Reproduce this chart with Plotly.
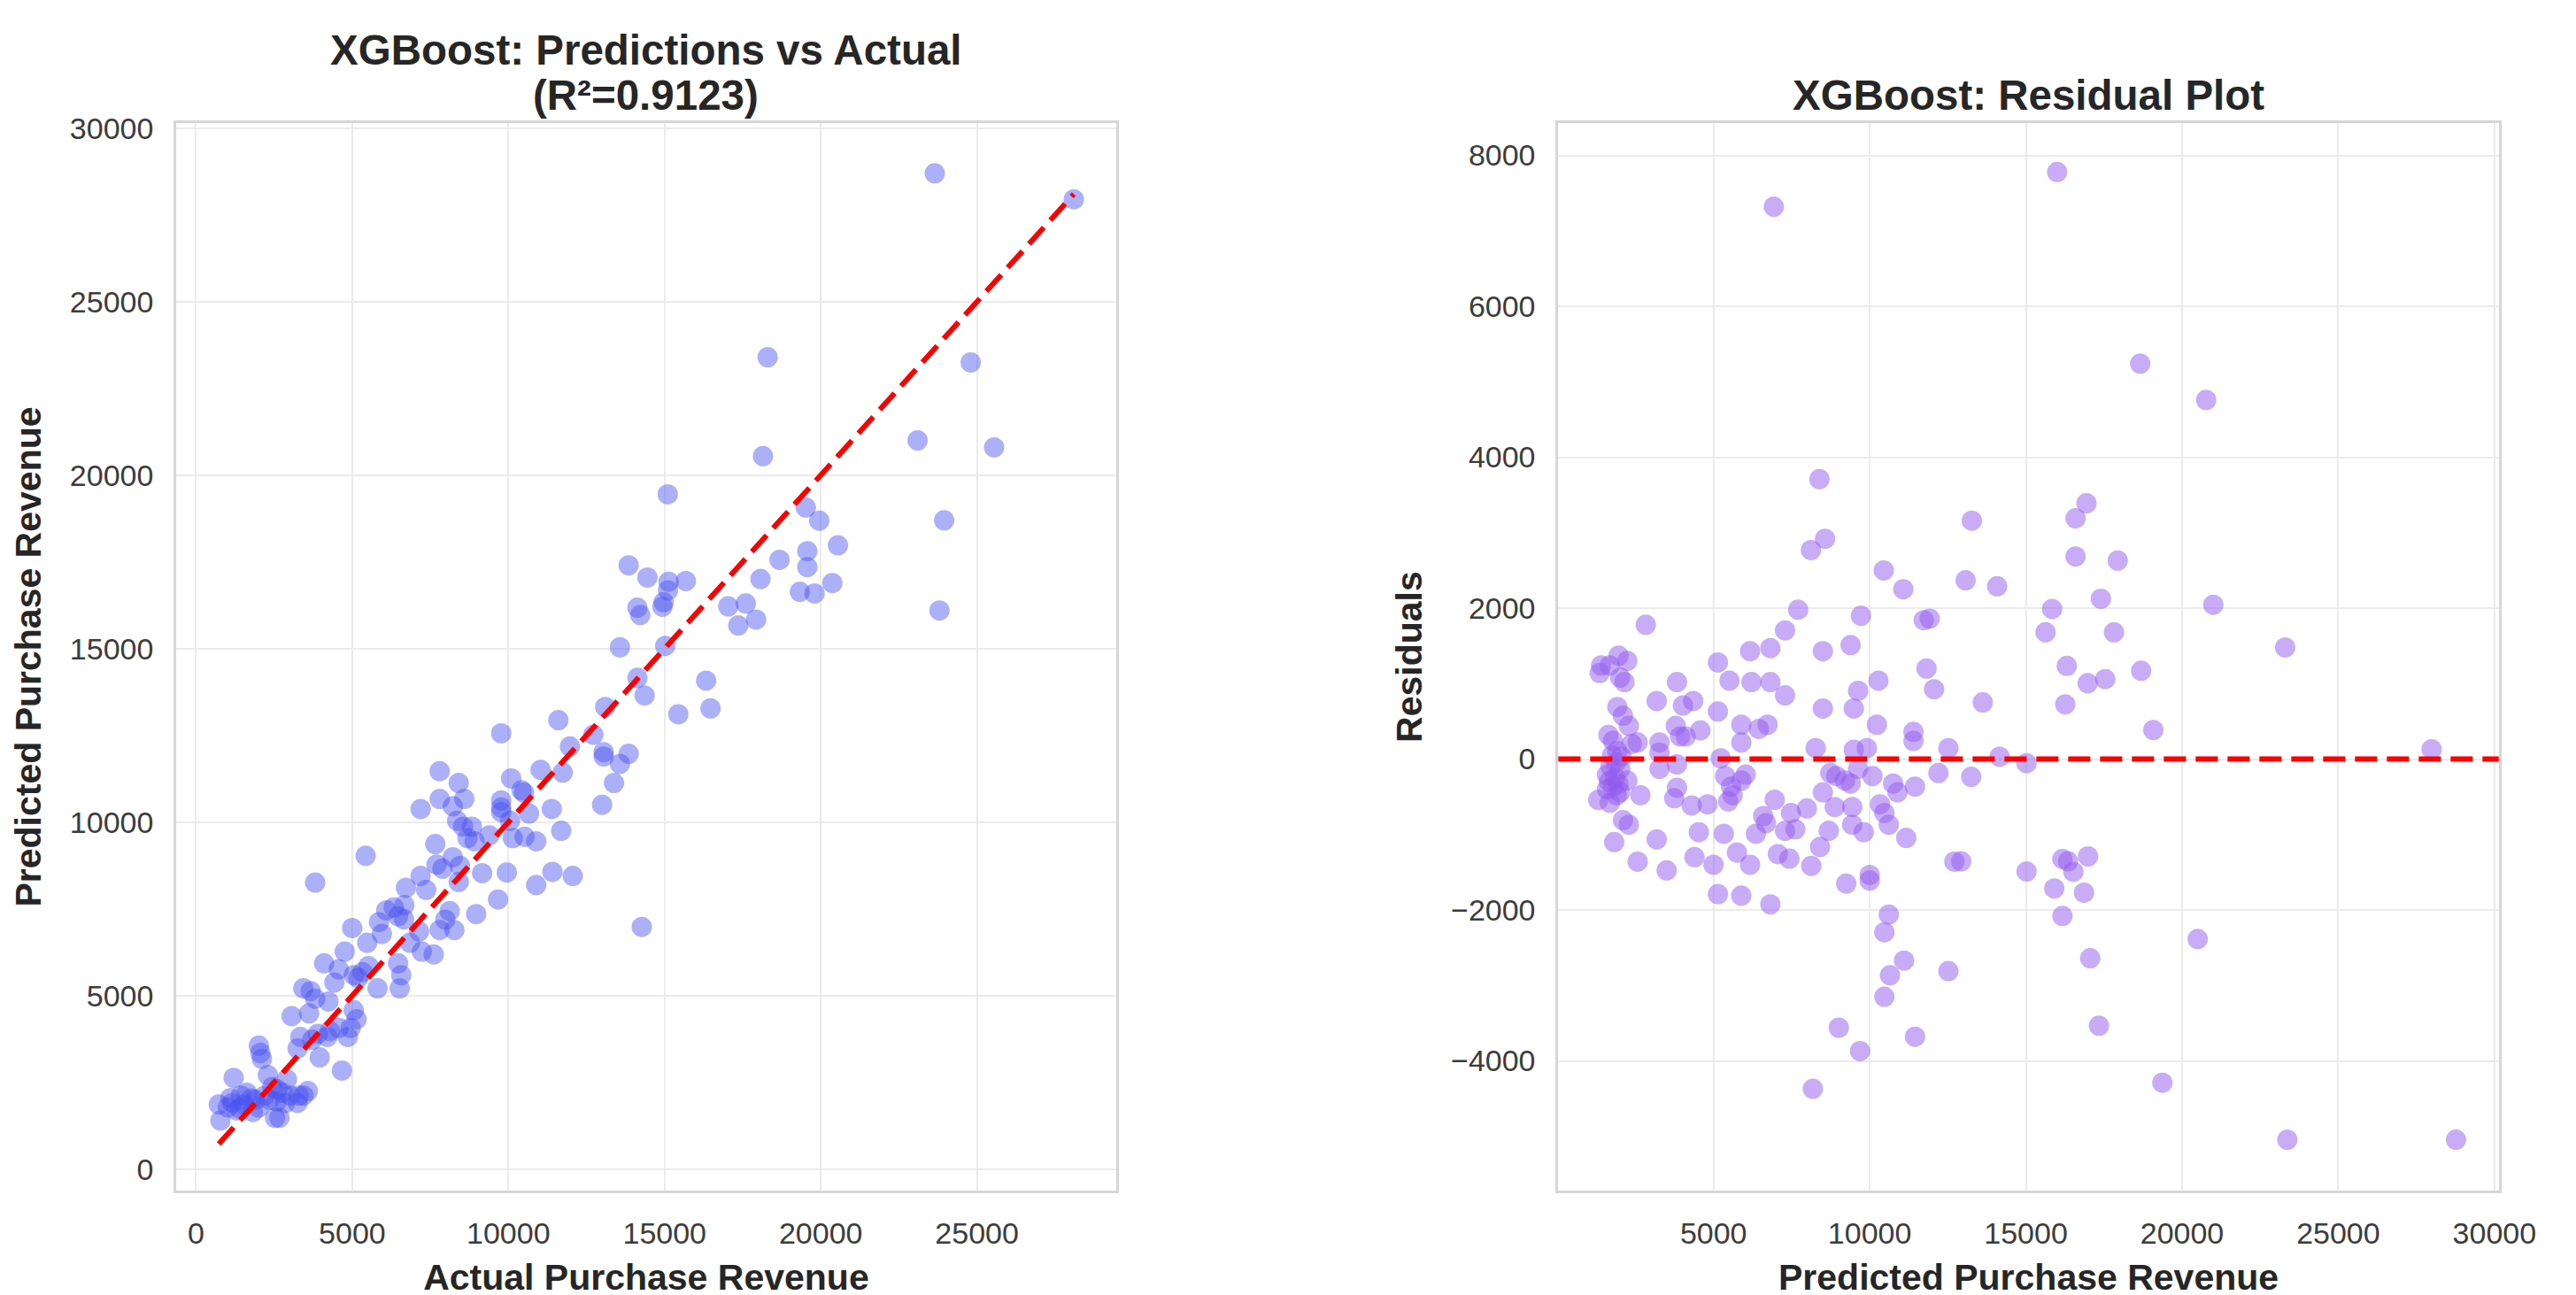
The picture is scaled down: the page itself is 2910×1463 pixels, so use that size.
import plotly.graph_objects as go

# Left panel: actual vs predicted purchase revenue
actual_rev = [
    730, 780, 1205, 1015, 1160, 1300, 1440, 1540, 1630, 1775, 1820, 2010, 2010, 2060,
    2110, 2200, 2300, 2440, 2530, 2670, 2580, 2770, 2910, 3010, 3250, 3290, 3580, 3440,
    1100, 1400, 1900, 2350, 2600, 2850,
    4670, 3960, 3250, 3340, 3720, 3900, 4200, 4290, 4570, 4860, 4950, 5140, 5050, 3060,
    3620, 3435, 3670, 4240, 3815, 4100, 4430, 4570, 4760, 5000, 5050, 5190, 5330, 5520,
    5810, 5480, 5860, 5950, 6090, 6330, 6470, 6470, 6570, 6520, 6850, 7230, 7610, 3815,
    5430,
    13850, 14450, 15130, 15680, 15110, 14970, 14930, 14130, 14220, 13570, 15020, 17040,
    17600, 17360, 17930, 18680, 19570, 19570, 19330, 19800, 20370, 20550, 19520, 19950,
    18070, 14130, 14360, 16330, 16470, 15440, 13100, 11600, 9770, 11970, 12720, 13050,
    13050, 13570, 13850, 13380, 11740, 11030, 10090, 10420, 10500, 10660, 11390, 11690,
    13000, 7800, 8410, 8590, 7800, 7190, 8220, 9770, 9770, 9770, 10050, 10140, 10520,
    10890, 8360, 8550, 8830, 8690, 8920, 9390, 7660, 7700, 7890, 8220, 8450, 8410, 7190,
    7370, 9160, 9950, 10890, 11410, 12060, 9670, 8970, 8120, 7980, 8270, 7800, 7140,
    6720, 6670, 14270, 6660,
    23650, 28100, 18300, 24800, 23100, 25550, 18150, 15100, 23950, 23800,
]
predicted_rev = [
    1865, 1400, 2630, 1780, 1910, 1695, 2120, 1865, 2200, 2035, 1650, 1780, 3560, 3350,
    3180, 2120, 2710, 2370, 1480, 1480, 1950, 2200, 2585, 2120, 1910, 2120, 2250, 2120,
    2050, 1750, 2000, 2000, 2300, 1900,
    2840, 3220, 3475, 3810, 3730, 3900, 3810, 3980, 4070, 3810, 4070, 4320, 4580, 4410,
    4490, 5210, 5130, 4830, 4915, 5930, 5380, 5760, 6270, 6950, 5590, 5510, 5680, 5850,
    5210, 6525, 7120, 6780, 7460, 7540, 7290, 5930, 5590, 5210, 6525, 6270, 6190, 8260,
    9030,
    17400, 17050, 16930, 16950, 16680, 16340, 16210, 16180, 15970, 15040, 15080, 16220,
    16300, 15670, 15840, 17560, 17810, 17350, 16640, 16590, 16890, 17980, 19070, 18690,
    17010, 14160, 13650, 14080, 13280, 13110, 13320, 12940, 12560, 12180, 12520, 12020,
    11890, 11680, 11970, 11130, 11430, 11510, 11260, 10920, 10850, 10250, 10380, 9750,
    10500, 11470, 11130, 10670, 10670, 10380, 10460, 10630, 10420, 10290, 10040, 9540, 9580,
    9450, 10040, 9870, 9870, 9540, 9450, 9620, 9370, 8780, 8660, 8990, 8740, 8280, 8450,
    8050, 8530, 8550, 8190, 8570, 8450, 7770, 7350, 7440, 7190, 6890, 6890, 6850,
    8110, 7610, 6980, 7200,
    28700, 27950, 23400, 23250, 21000, 20800, 20550, 19450, 18700, 16100,
]

# Right panel: predicted revenue vs residual
resid_pred = [
    2830, 1400, 1355, 1680, 1960, 2240, 2010, 2150, 1920, 2100, 2290, 1635, 1780, 2570,
    2380, 1920, 1870, 2010, 1590, 2240, 1780, 1310, 1680, 2010, 1590, 2660, 2100, 2290,
    1820, 2570, 3180, 3500, 3180, 3830, 4020, 4350, 3270, 3270, 3790, 3930, 4110, 4580,
    3830, 3270, 3830, 3740, 4300, 4810, 4530, 4390, 5000, 5140, 5140, 5510, 5140, 5230,
    5370, 5560, 5610, 5470, 5890, 6030, 5330, 5750, 5890, 6170, 5890, 5890, 6170, 6215,
    6450, 6730, 6820, 6820, 7290, 7710, 7290, 6355, 6590, 6680, 6960, 7060, 7290, 7430,
    7480, 7620, 7990, 8130, 6820, 8270, 8500, 8500, 8500, 8740, 8930, 8690, 8410, 8880,
    9210, 9390, 9390, 9440, 9440, 9490, 9630, 9720, 9490, 9630, 9810, 9250, 9910, 10000,
    10000, 10090, 10230, 10280, 10330, 10470, 10610, 10750, 10890, 11170, 10610, 10470,
    11075, 11730, 11920, 11820, 12060, 11400, 11400, 11450, 12200, 12520, 12710,
    1700, 1850, 1950, 1750, 2050, 1650, 1900,
    13270, 10450, 13070, 14080, 13620, 14160, 15020, 13250, 12930, 11100, 10650, 12520,
    10470, 11450, 16940, 16590, 16590, 17940, 15840, 17400, 15630, 17820, 16310, 16980,
    17540, 18690, 16260, 19080, 21000, 23300, 16170, 16350, 16990, 16520, 15020, 15910,
    16860, 16170, 17060, 20500, 17340, 19370,
    6930, 16000, 18660, 20770, 8390, 8570, 8120, 27990, 23370, 28770, 8180, 9010, 9690,
]
residuals = [
    1780, 1240, 1140, 1240, 1370, 1300, 1080, 1020, 690, 575, 440, 320, 240, 220,
    200, 105, -50, -130, -210, -285, -365, -540, -580, -440, -400, -480, -810, -870,
    -1100, -1360, -1065, -1475, 770, 1020, 710, 770, 220, 85, 440, 300, 300, 380,
    -70, -130, -380, -520, -615, -600, -970, -1300, -1400, -1790, 1280, 1040, 630, 10,
    -225, -365, -480, -560, -285, -205, -990, -1240, -1810, -1400, 455, 220, 1430, 1020,
    400, 455, 1470, 1020, 1705, 1980, 845, -990, -755, -850, -540, -1260, -950, -1320,
    -715, -930, -655, -1415, -1925, 145, 1430, 670, -440, -185, -225, -950, -1165, -635,
    -285, 1510, -325, -635, -870, 670, 905, 1900, 125, -130, -970, -1650, 145, -1535,
    -1610, -225, 455, 1040, -600, -715, -870, -325, -440, -1045, -2060, -2295,
    2250, 1840, 1860, 1200, 925, 360, 240, -365, -185, 145, -1360,
    -100, -250, -330, 50, 30, -300, -480,
    3160, 2500, 2370, 2290, 750, 30, -55, -235, -1355, -2670, -2865, -2810,
    -3150, -3680, 3390, 3190, 2685, 2630, 1990, 2125, 1680, 1680, 1235, 1005,
    1060, 1170, 725, 385, 2045, 1480, -1325, -1355, -1290, -1495, -1490, -1715,
    -1770, -2080, -2640, -2385, -3535, -4290,
    7320, 7780, 5240, 4760, 3710, 2920, 2770, 130, -5045, -5045, -4370, -3560, -3870,
]

FONT = "Liberation Sans, Arial, sans-serif"
TXT = "#262626"
TICK = "#3c3c3c"
FRAME = "#d6d6d6"
GRID = "#ebebeb"
W, H = 2910, 1463

fig = go.Figure()

fig.add_trace(go.Scatter(
    x=actual_rev, y=predicted_rev, mode="markers",
    marker=dict(size=23, color="rgba(70,80,240,0.45)", line=dict(width=0)),
    xaxis="x", yaxis="y", showlegend=False,
))
# perfect prediction line
lo, hi = min(actual_rev), max(actual_rev)
fig.add_trace(go.Scatter(
    x=[lo, hi], y=[lo, hi], mode="lines",
    line=dict(color="red", width=6, dash="25px,11px"),
    xaxis="x", yaxis="y", showlegend=False,
))

fig.add_trace(go.Scatter(
    x=resid_pred, y=residuals, mode="markers",
    marker=dict(size=23, color="rgba(145,90,240,0.5)", line=dict(width=0)),
    xaxis="x2", yaxis="y2", showlegend=False,
))
fig.add_shape(type="line", xref="x2 domain", yref="y2", x0=0, x1=1, y0=0, y1=0,
              line=dict(color="red", width=6, dash="25px,11px"))

ydom = [1 - 1336 / H, 1 - 119 / H]
axis_common = dict(
    showgrid=True, gridcolor=GRID, gridwidth=2, zeroline=False,
    showline=True, linecolor=FRAME, linewidth=3, mirror=True,
    ticks="outside", ticklen=16, tickcolor="rgba(0,0,0,0)",
    tickformat="d",
    tickfont=dict(family=FONT, size=34, color=TICK),
)
title_font = dict(family=FONT, size=41, color=TXT)

fig.update_layout(
    width=W, height=H,
    margin=dict(l=0, r=0, t=0, b=0),
    paper_bgcolor="white", plot_bgcolor="white",
    xaxis=dict(domain=[194 / W, 1271 / W], range=[-630, 29450],
               tickvals=[0, 5000, 10000, 15000, 20000, 25000],
               title=dict(text="<b>Actual Purchase Revenue</b>", font=title_font, standoff=18),
               anchor="y", **axis_common),
    yaxis=dict(domain=ydom, range=[-620, 30150],
               tickvals=[0, 5000, 10000, 15000, 20000, 25000, 30000],
               title=dict(text="<b>Predicted Purchase Revenue</b>", font=title_font, standoff=20),
               anchor="x", **axis_common),
    xaxis2=dict(domain=[1778 / W, 2856 / W], range=[30, 30140],
                tickvals=[5000, 10000, 15000, 20000, 25000, 30000],
                title=dict(text="<b>Predicted Purchase Revenue</b>", font=title_font, standoff=18),
                anchor="y2", **axis_common),
    yaxis2=dict(domain=ydom, range=[-5720, 8430],
                tickvals=[-4000, -2000, 0, 2000, 4000, 6000, 8000],
                ticktext=["\u22124000", "\u22122000", "0", "2000", "4000", "6000", "8000"],
                title=dict(text="<b>Residuals</b>", font=title_font, standoff=20),
                anchor="x2", **axis_common),
)

head_font = dict(family=FONT, size=47.5, color=TXT)
left_mid = (194 + 1271) / 2 / W
right_mid = (1778 + 2856) / 2 / W
fig.add_annotation(text="<b>XGBoost: Predictions vs Actual</b>", x=left_mid, y=1 - 36 / H,
                   xref="paper", yref="paper", xanchor="center", yanchor="middle",
                   showarrow=False, font=head_font)
fig.add_annotation(text="<b>(R²=0.9123)</b>", x=left_mid, y=1 - 87 / H,
                   xref="paper", yref="paper", xanchor="center", yanchor="middle",
                   showarrow=False, font=head_font)
fig.add_annotation(text="<b>XGBoost: Residual Plot</b>", x=right_mid, y=1 - 87 / H,
                   xref="paper", yref="paper", xanchor="center", yanchor="middle",
                   showarrow=False, font=head_font)

fig.write_html("out.html")
